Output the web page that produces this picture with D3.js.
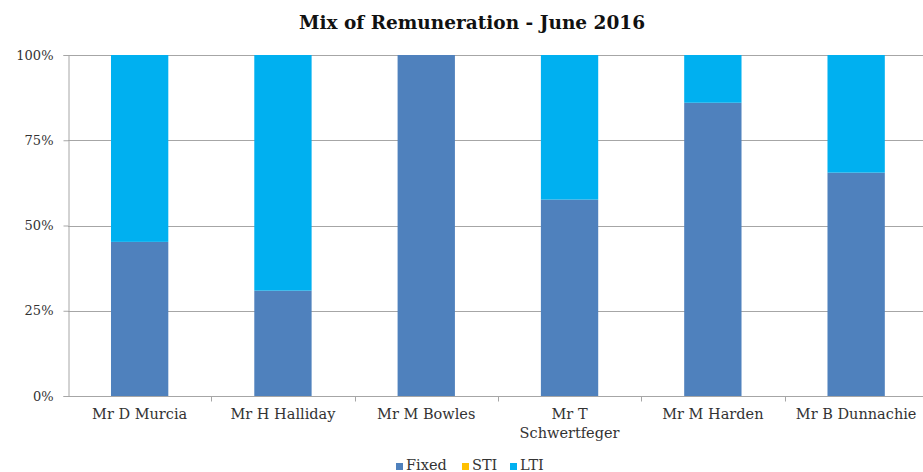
<!DOCTYPE html>
<html>
<head>
<meta charset="utf-8">
<script src="https://cdn.jsdelivr.net/npm/d3@7"></script>
<style>
  body { margin: 0; background: #fff; }
  svg text { font-family: "DejaVu Serif", Georgia, serif; fill: #333; }
</style>
</head>
<body>
<div id="chart"></div>
<script>
var w = 923, h = 472;

// data (share of total remuneration)
var names = ["Mr D Murcia", "Mr H Halliday", "Mr M Bowles", "Mr T Schwertfeger", "Mr M Harden", "Mr B Dunnachie"];
var fixed = [0.452, 0.309, 1.0, 0.576, 0.860, 0.655];
var sti   = [0, 0, 0, 0, 0, 0];
var lti   = [0.548, 0.691, 0, 0.424, 0.140, 0.345];
var seriesNames = ["Fixed", "STI", "LTI"];
var colors = ["#4F81BD", "#FFC000", "#00B0F0"];
var yTicks = [0, 0.25, 0.5, 0.75, 1];

var plotLeft = 68, plotTop = 55, plotBottom = 396;
var step = 143.3;

var data = names.map(function(n, i) {
    return {name: n, Fixed: fixed[i], STI: sti[i], LTI: lti[i]};
});
var stacked = d3.stack().keys(seriesNames)(data);

var xScale = d3.scaleBand()
    .domain(names)
    .range([plotLeft, plotLeft + step * names.length])
    .padding(0);

var yScale = d3.scaleLinear()
    .domain([0, 1])
    .range([plotBottom, plotTop]);

var svg = d3.select("#chart")
    .append("svg")
    .attr("width", w)
    .attr("height", h);

// title
svg.append("text")
    .attr("x", 472)
    .attr("y", 29)
    .attr("text-anchor", "middle")
    .attr("font-size", "18.5px")
    .attr("font-weight", "bold")
    .style("fill", "#111")
    .text("Mix of Remuneration - June 2016");

// gridlines
svg.append("g")
    .selectAll("line")
    .data(yTicks.slice(1))
    .enter()
    .append("line")
    .attr("x1", plotLeft)
    .attr("x2", w)
    .attr("y1", function(d) { return Math.round(yScale(d)) + 0.5; })
    .attr("y2", function(d) { return Math.round(yScale(d)) + 0.5; })
    .attr("stroke", "#a6a6a6")
    .attr("stroke-width", 1);

// bars
var barW = step * 0.4;
svg.append("g")
    .selectAll("g")
    .data(stacked)
    .enter()
    .append("g")
    .attr("fill", function(d, i) { return colors[i]; })
    .selectAll("rect")
    .data(function(d) { return d; })
    .enter()
    .append("rect")
    .attr("x", function(d) { return xScale(d.data.name) + (xScale.bandwidth() - barW) / 2; })
    .attr("y", function(d) { return yScale(d[1]); })
    .attr("width", barW)
    .attr("height", function(d) { return yScale(d[0]) - yScale(d[1]); });

// y axis
var yAxis = d3.axisLeft(yScale)
    .tickValues(yTicks)
    .tickFormat(d3.format(".0%"))
    .tickSize(5)
    .tickPadding(10);

var gy = svg.append("g")
    .attr("transform", "translate(" + (plotLeft + 0.5) + ",0)")
    .call(yAxis);
gy.select(".domain").attr("stroke", "#a6a6a6");
gy.selectAll(".tick line").attr("stroke", "#a6a6a6");
gy.selectAll("text").attr("font-size", "13px").attr("font-family", null).style("fill", "#333");

// x axis
var gx = svg.append("g")
    .attr("transform", "translate(0," + (plotBottom + 0.5) + ")");
gx.append("line")
    .attr("x1", plotLeft)
    .attr("x2", w)
    .attr("stroke", "#a6a6a6");
gx.selectAll(".xtick")
    .data(names.slice(1))
    .enter()
    .append("line")
    .attr("x1", function(d) { return Math.round(xScale(d)) + 0.5; })
    .attr("x2", function(d) { return Math.round(xScale(d)) + 0.5; })
    .attr("y1", 0)
    .attr("y2", 5)
    .attr("stroke", "#a6a6a6");

// category labels, wrapped as in the picture
var labelLines = {"Mr T Schwertfeger": ["Mr T", "Schwertfeger"]};
gx.selectAll(".xlabel")
    .data(names)
    .enter()
    .append("text")
    .attr("text-anchor", "middle")
    .attr("font-size", "14.5px")
    .attr("y", 22)
    .each(function(n) {
        var lines = labelLines[n] || [n];
        var t = d3.select(this);
        lines.forEach(function(l, j) {
            t.append("tspan")
                .attr("x", xScale(n) + xScale.bandwidth() / 2)
                .attr("dy", j === 0 ? 0 : 19)
                .text(l);
        });
    });

// legend
var legendX = [396, 462, 510];
var legend = svg.append("g")
    .selectAll("g")
    .data(seriesNames)
    .enter()
    .append("g")
    .attr("transform", function(d, i) { return "translate(" + legendX[i] + ",458)"; });
legend.append("rect")
    .attr("width", 7)
    .attr("height", 7)
    .attr("y", 5)
    .attr("fill", function(d, i) { return colors[i]; });
legend.append("text")
    .attr("x", 10)
    .attr("y", 12)
    .attr("font-size", "14.5px")
    .text(function(d) { return d; });
</script>
</body>
</html>
